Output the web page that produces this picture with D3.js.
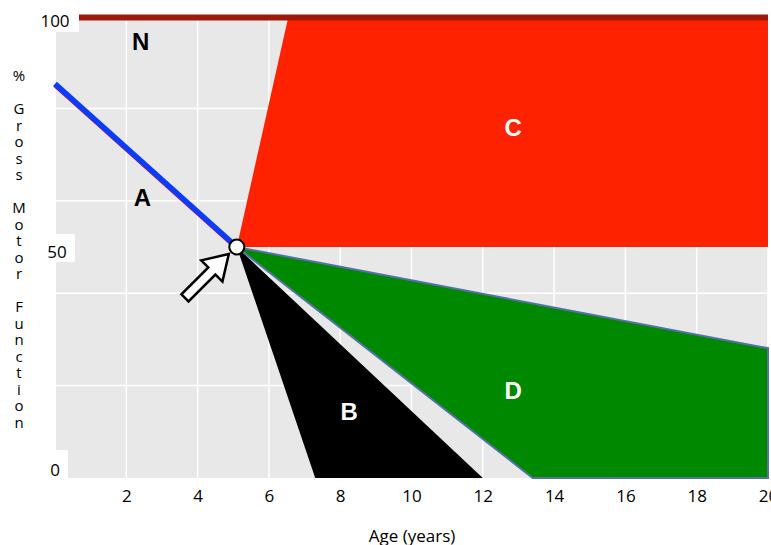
<!DOCTYPE html>
<html>
<head>
<meta charset="utf-8">
<script src="https://cdn.jsdelivr.net/npm/d3@7"></script>
<style>
  body { margin: 0; background: #fff; }
  svg text { font-family: "Open Sans", "Noto Sans", sans-serif; }
</style>
</head>
<body>
<div id="chart"></div>
<script>
// values (age in years, % gross motor function)
const ageTicks = [2, 4, 6, 8, 10, 12, 14, 16, 18, 20];
const ageGrid = [0, 2, 4, 6, 8, 10, 12, 14, 16, 18, 20];
const pctTicks = [100, 50, 0];
const pctGrid = [20, 40, 60, 80];

const lineN = [[0, 100], [20, 100]];
const lineA = [[0, 85.3], [5.1, 50]];
const regionC = [[5.1, 50], [6.55, 100], [20, 100], [20, 50]];
const regionB = [[5.1, 50], [7.3, 0], [12, 0]];
const regionD = [[5.1, 50], [20, 28.1], [20, 0], [13.4, 0]];
const pivot = [5.1, 50];

const labelNames = ['N', 'A', 'C', 'B', 'D'];
const labelAges = [2.4, 2.45, 12.85, 8.25, 12.85];
const labelPcts = [94.4, 60.6, 75.8, 14.3, 19];
const labelColors = ['#000', '#000', '#fff', '#fff', '#fff'];

const yTitle = ['%', '', 'G', 'r', 'o', 's', 's', '', 'M', 'o', 't', 'o', 'r', '', 'F', 'u', 'n', 'c', 't', 'i', 'o', 'n'];

const width = 771, height = 545;

const svg = d3.select('#chart').append('svg')
    .attr('width', width)
    .attr('height', height);

const x = d3.scaleLinear([0, 20], [55, 768]);
const y = d3.scaleLinear([0, 100], [478, 16]);

// panel
svg.append('rect')
    .attr('x', 56).attr('y', y(100))
    .attr('width', x(20) - 56).attr('height', y(0) - y(100))
    .attr('fill', '#e8e8e8');

// grid
svg.append('g').selectAll('line')
    .data(ageGrid)
    .join('line')
    .attr('x1', d => x(d)).attr('x2', d => x(d))
    .attr('y1', y(100)).attr('y2', y(0))
    .attr('stroke', '#fff').attr('stroke-width', 1.5);

svg.append('g').selectAll('line')
    .data(pctGrid)
    .join('line')
    .attr('x1', 56).attr('x2', x(20))
    .attr('y1', d => y(d)).attr('y2', d => y(d))
    .attr('stroke', '#fff').attr('stroke-width', 1.5);

const area = d3.line().x(d => x(d[0])).y(d => y(d[1]));

svg.append('path').attr('d', area(regionC) + 'Z').attr('fill', '#ff2200');
svg.append('path').attr('d', area(regionB) + 'Z').attr('fill', '#000');
svg.append('path').attr('d', area(regionD) + 'Z')
    .attr('fill', '#008800')
    .attr('stroke', '#5572a8').attr('stroke-width', 2);

// line A (thin red fringe under the blue)
svg.append('path').attr('d', area(lineA))
    .attr('transform', 'translate(0,1)')
    .attr('stroke', '#ff2200').attr('stroke-width', 5).attr('fill', 'none');
svg.append('path').attr('d', area(lineA))
    .attr('stroke', '#0a3cff').attr('stroke-width', 5.5).attr('fill', 'none');

// line N
svg.append('path').attr('d', area(lineN))
    .attr('transform', 'translate(0,1.5)')
    .attr('stroke', '#9b1a0a').attr('stroke-width', 6).attr('fill', 'none');

// y tick labels with white boxes
const boxes = [
    { x0: 0, x1: 79, y0: 0, y1: 32 },
    { x0: 0, x1: 75, y0: 234, y1: 262 },
    { x0: 0, x1: 68, y0: 450, y1: 482 }
];
svg.append('g').selectAll('rect')
    .data(boxes)
    .join('rect')
    .attr('x', d => d.x0).attr('y', d => d.y0)
    .attr('width', d => d.x1 - d.x0).attr('height', d => d.y1 - d.y0)
    .attr('fill', '#fff');

const yLabelY = { 100: 21, 50: 252, 0: 470 };
const yLabelX = { 100: 55, 50: 57, 0: 55 };
svg.append('g').selectAll('text')
    .data(pctTicks)
    .join('text')
    .attr('x', d => yLabelX[d]).attr('y', d => yLabelY[d])
    .attr('dy', '0.35em')
    .attr('text-anchor', 'middle')
    .attr('font-size', 17)
    .text(d => d);

// x axis
const axisX = svg.append('g')
    .attr('transform', `translate(0, ${y(0)})`)
    .call(d3.axisBottom(x).tickValues(ageTicks).tickSize(0).tickPadding(12));
axisX.select('.domain').remove();
axisX.selectAll('text')
    .attr('font-size', 17)
    .attr('fill', '#000')
    .style('font-family', '"Open Sans", "Noto Sans", sans-serif');

svg.append('text')
    .attr('x', 412).attr('y', 542)
    .attr('text-anchor', 'middle')
    .attr('font-size', 17)
    .text('Age (years)');

// y title, one letter per line
svg.append('text')
    .attr('text-anchor', 'middle')
    .attr('font-size', 15)
    .selectAll('tspan')
    .data(yTitle)
    .join('tspan')
    .attr('x', 19)
    .attr('y', (d, i) => 81 + i * 16.5)
    .text(d => d);

// region labels
svg.append('g').selectAll('text')
    .data(labelNames)
    .join('text')
    .attr('x', (d, i) => x(labelAges[i]))
    .attr('y', (d, i) => y(labelPcts[i]))
    .attr('dy', '0.35em')
    .attr('text-anchor', 'middle')
    .attr('font-size', 24)
    .attr('font-weight', 'bold')
    .attr('fill', (d, i) => labelColors[i])
    .style('font-family', '"Liberation Sans", Arial, sans-serif')
    .text(d => d);

// arrow pointing at the pivot
const px = x(pivot[0]), py = y(pivot[1]);
const arrowPts = [[0, 0], [-24, -15], [-24, -5], [-62, -5], [-62, 5], [-24, 5], [-24, 15]];
svg.append('path')
    .attr('d', d3.line()(arrowPts) + 'Z')
    .attr('transform', `translate(${px - 8}, ${py + 7}) rotate(-45)`)
    .attr('fill', '#fff')
    .attr('stroke', '#000')
    .attr('stroke-width', 2.5)
    .attr('stroke-linejoin', 'miter');

svg.append('circle')
    .attr('cx', px).attr('cy', py).attr('r', 7.5)
    .attr('fill', '#fff')
    .attr('stroke', '#000')
    .attr('stroke-width', 2);
</script>
</body>
</html>
